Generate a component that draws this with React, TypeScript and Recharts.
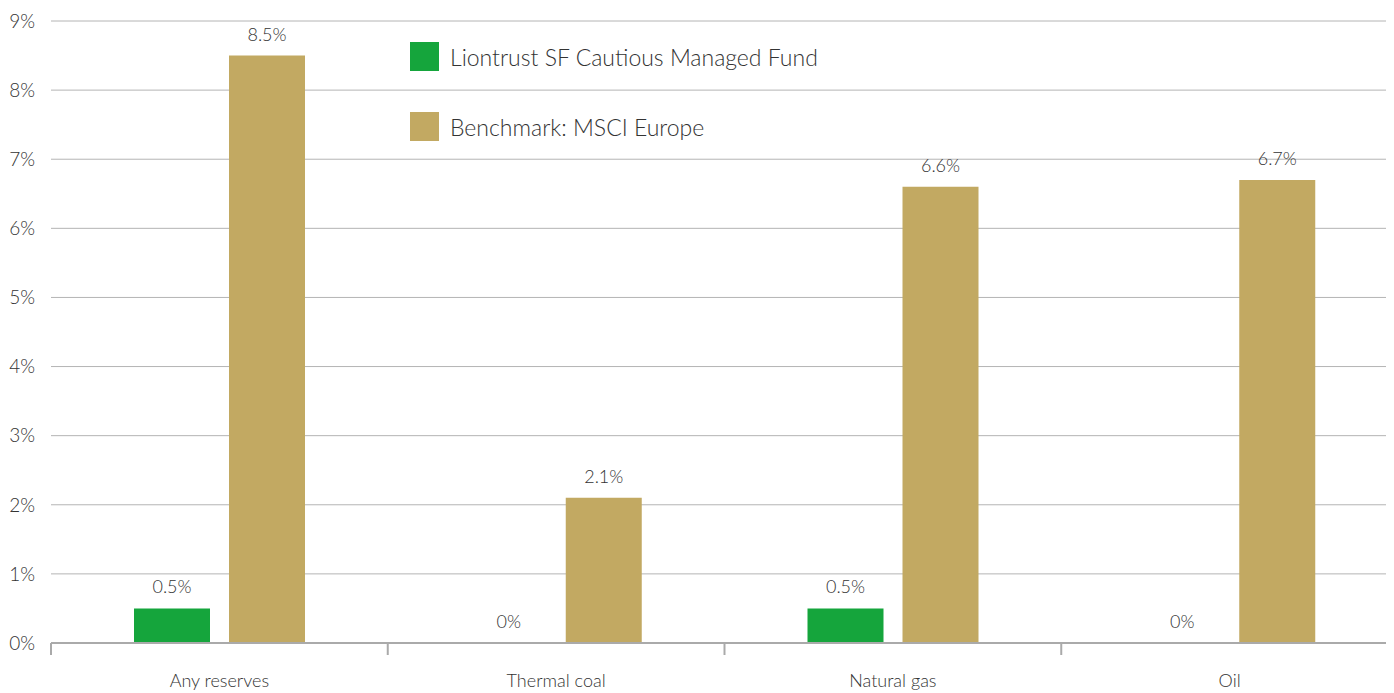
import React from "react";
import {
  BarChart,
  Bar,
  Cell,
  XAxis,
  YAxis,
  CartesianGrid,
  Legend,
  LabelList,
  ReferenceLine,
} from "recharts";

const categories = ["Any reserves", "Thermal coal", "Natural gas", "Oil"];
const fundValues = [0.5, 0, 0.5, 0];
const benchmarkValues = [8.5, 2.1, 6.6, 6.7];
const yTicks = [0, 1, 2, 3, 4, 5, 6, 7, 8, 9];

const FUND_NAME = "Liontrust SF Cautious Managed Fund";
const BENCH_NAME = "Benchmark: MSCI Europe";
const GREEN = "#15a53c";
const GOLD = "#c2a962";
const TEXT = "#333333";
const GRID = "#b4b4b4";
const FONT = "Lato, 'Open Sans', sans-serif";

const data = categories.map((name, i) => ({
  name,
  fund: fundValues[i],
  bench: benchmarkValues[i],
}));

const legendItems = [
  { label: FUND_NAME, color: GREEN },
  { label: BENCH_NAME, color: GOLD },
];

function ChartLegend() {
  return (
    <div style={{ fontFamily: FONT, fontWeight: 300 }}>
      {legendItems.map((item, i) => (
        <div
          key={item.label}
          style={{
            display: "flex",
            alignItems: "center",
            height: 29,
            marginBottom: i === 0 ? 41 : 0,
          }}
        >
          <div style={{ width: 29, height: 29, background: item.color }} />
          <span
            style={{
              marginLeft: 11,
              fontSize: 23,
              color: TEXT,
              whiteSpace: "nowrap",
            }}
          >
            {item.label}
          </span>
        </div>
      ))}
    </div>
  );
}

// short tick mark under the axis at the start of each category band
const BoundaryTick = (props: any) => {
  const bottom = Math.max(props.y1, props.y2);
  return (
    <line
      x1={props.x1}
      x2={props.x1}
      y1={bottom}
      y2={bottom + 12}
      stroke="#aaaaaa"
      strokeWidth={2}
    />
  );
};

const ValueLabel = (props: any) => {
  const { x, y, width, height, value } = props;
  if (value == null) return null;
  // zero values get a 1px invisible bar so the label still shows; keep it on the baseline
  const top = value === 0 ? y + height : y;
  return (
    <text
      x={x + width / 2}
      y={top - 15}
      textAnchor="middle"
      fill={TEXT}
      fontSize={18}
      fontFamily={FONT}
      fontWeight={300}
    >
      {`${value}%`}
    </text>
  );
};

export default function App() {
  const pct = (v: number) => `${v}%`;
  return (
    <div style={{ width: 1378, overflow: "hidden" }}>
      <BarChart
        width={1390}
        height={685}
        data={data}
        margin={{ top: 13, right: 0, left: 0, bottom: 0 }}
        barGap={19}
        style={{ fontFamily: FONT, fontWeight: 300 }}
      >
        <CartesianGrid vertical={false} stroke={GRID} />
        <XAxis
          dataKey="name"
          height={50}
          axisLine={{ stroke: "#aaaaaa", strokeWidth: 2 }}
          tickLine={false}
          tickSize={12}
          tickMargin={19}
          tick={{ fill: TEXT, fontSize: 18 }}
        />
        <YAxis
          width={43}
          domain={[0, 9]}
          ticks={yTicks}
          tickFormatter={pct}
          axisLine={false}
          tickLine={false}
          tickSize={0}
          tickMargin={16}
          tick={{ fill: TEXT, fontSize: 19 }}
        />
        {categories.map((c) => (
          <ReferenceLine
            key={c}
            x={c}
            position="start"
            ifOverflow="visible"
            shape={BoundaryTick}
          />
        ))}
        <Legend
          layout="vertical"
          verticalAlign="middle"
          align="center"
          content={() => <ChartLegend />}
          wrapperStyle={{ left: 402, top: 34, width: "auto" }}
        />
        <Bar
          dataKey="fund"
          name={FUND_NAME}
          fill={GREEN}
          barSize={76}
          minPointSize={1}
          isAnimationActive={false}
        >
          {fundValues.map((v, i) => (
            <Cell key={i} fill={v === 0 ? "transparent" : GREEN} />
          ))}
          <LabelList dataKey="fund" content={ValueLabel} />
        </Bar>
        <Bar
          dataKey="bench"
          name={BENCH_NAME}
          fill={GOLD}
          barSize={76}
          isAnimationActive={false}
        >
          <LabelList dataKey="bench" content={ValueLabel} />
        </Bar>
      </BarChart>
    </div>
  );
}
